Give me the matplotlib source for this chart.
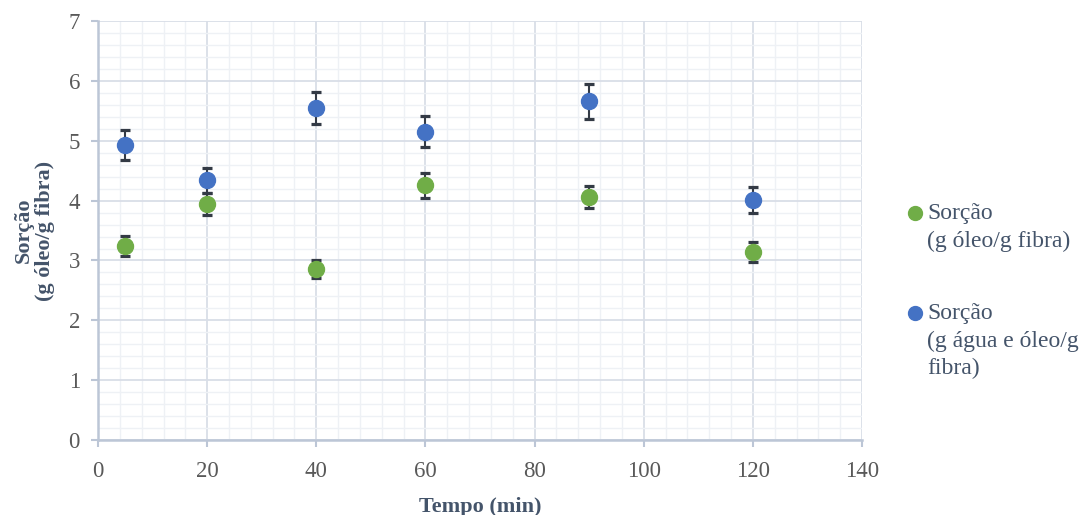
import numpy as np
import matplotlib
matplotlib.use('Agg')
from matplotlib import pyplot as plt
from matplotlib.ticker import MultipleLocator

tempo = [5, 20, 40, 60, 90, 120]
oleo = [3.24, 3.94, 2.86, 4.26, 4.06, 3.14]
oleo_err = [0.17, 0.18, 0.15, 0.21, 0.19, 0.17]
agua_oleo = [4.93, 4.34, 5.55, 5.15, 5.66, 4.01]
agua_oleo_err = [0.25, 0.21, 0.27, 0.26, 0.29, 0.21]

labels = ['Sorção\n(g óleo/g fibra)', 'Sorção\n(g água e óleo/g\nfibra)']
cores = ['#70AD47', '#4472C4']

plt.rcParams['font.family'] = ['Liberation Serif', 'DejaVu Serif']

fig = plt.figure(figsize=(10.83, 5.15), dpi=100)
ax = fig.add_axes([0.0905, 0.1456, 0.7055, 0.8134])

for y, err, c in [(oleo, oleo_err, cores[0]), (agua_oleo, agua_oleo_err, cores[1])]:
    ax.errorbar(tempo, y, yerr=err, fmt='o', color=c, ms=11.5, mec=c,
                ecolor='#333A45', elinewidth=1.5, capsize=3.8, capthick=2.3,
                zorder=3)

ax.set_xlim(0, 140)
ax.set_ylim(0, 7)
ax.xaxis.set_major_locator(MultipleLocator(20))
ax.xaxis.set_minor_locator(MultipleLocator(4))
ax.yaxis.set_major_locator(MultipleLocator(1))
ax.yaxis.set_minor_locator(MultipleLocator(0.2))
ax.grid(which='major', color='#D9DEE7', lw=1.3, zorder=0)
ax.grid(which='minor', color='#EEF1F5', lw=1.0, zorder=0)
ax.set_axisbelow(True)

for side in ['top', 'right']:
    ax.spines[side].set_visible(False)
for side in ['left', 'bottom']:
    ax.spines[side].set_color('#BCC6D6')
    ax.spines[side].set_linewidth(1.8)
ax.tick_params(which='major', length=5, color='#BCC6D6', width=1.5,
               labelsize=16.5, labelcolor='#595959')
ax.tick_params(axis='y', pad=8)
ax.tick_params(axis='x', pad=10)
ax.tick_params(which='minor', length=0)

ax.set_xlabel('Tempo (min)', fontsize=16, fontweight='bold', color='#44546A', labelpad=11)
ax.set_ylabel('Sorção\n(g óleo/g fibra)', fontsize=16, fontweight='bold', color='#44546A',
              labelpad=10, linespacing=1.05)

# legenda: marcador ao lado da primeira linha de cada rótulo
W, H = fig.get_size_inches() * fig.dpi
for lab, c, ytop in zip(labels, cores, [213, 313]):
    fig.lines.append(plt.Line2D([915 / W], [1 - ytop / H], ls='none', marker='o', ms=10,
                                color=c, transform=fig.transFigure))
    fig.text(927 / W, 1 - (ytop - 10) / H, lab, fontsize=17, color='#44546A',
             va='top', ha='left', linespacing=1.4)

fig.savefig('out.png', dpi=100)
